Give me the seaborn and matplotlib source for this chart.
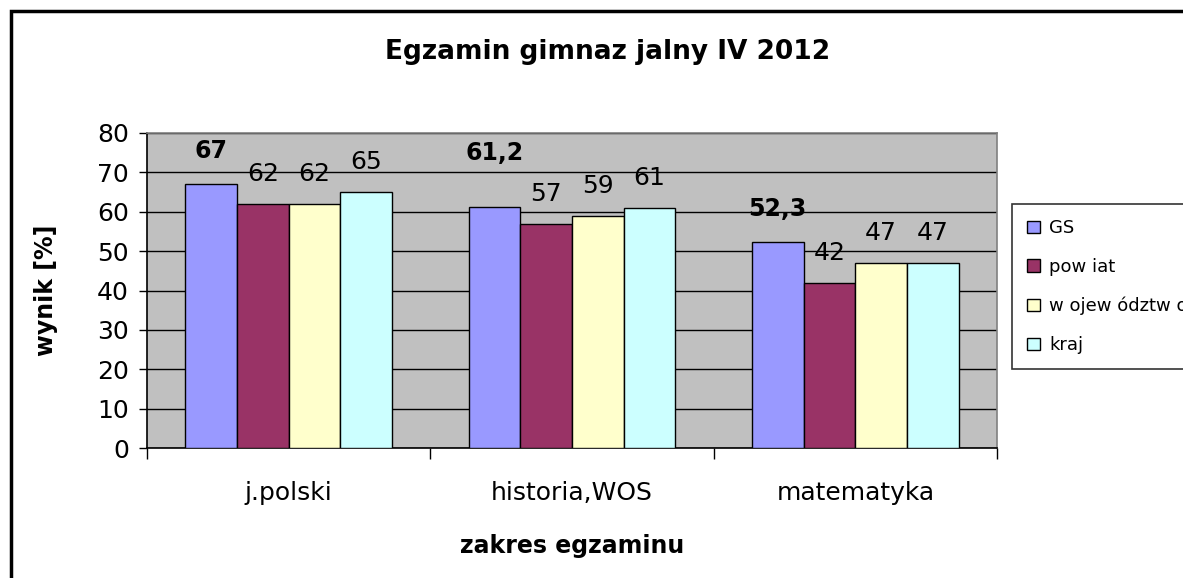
import matplotlib
matplotlib.use("Agg")
import matplotlib.pyplot as plt
import seaborn as sns
import pandas as pd
from matplotlib.patches import Rectangle

categories = ["j.polski", "historia,WOS", "matematyka"]
series = ["GS", "pow iat", "w ojew ództw o", "kraj"]
gs = [67, 61.2, 52.3]
powiat = [62, 57, 42]
wojewodztwo = [62, 59, 47]
kraj = [65, 61, 47]
gs_labels = ["67", "61,2", "52,3"]
colors = ["#9999FF", "#993366", "#FFFFCC", "#CCFFFF"]

rows = []
for s, vals in zip(series, [gs, powiat, wojewodztwo, kraj]):
    for c, v in zip(categories, vals):
        rows.append({"zakres": c, "seria": s, "wynik": v})
df = pd.DataFrame(rows)

sns.set_theme(style="white")
plt.rcParams['font.family'] = ['DejaVu Sans']
plt.rcParams.update({"text.color": "black", "axes.labelcolor": "black",
                     "xtick.color": "black", "ytick.color": "black"})

fig = plt.figure(figsize=(11.83, 5.78), dpi=100)
ax = fig.add_axes([147/1183, 1-448/578, (997-147)/1183, (448-133)/578])
ax.set_facecolor("#C0C0C0")

sns.barplot(data=df, x="zakres", y="wynik", hue="seria", order=categories,
            hue_order=series, palette=colors, saturation=1, width=0.73, gap=0,
            edgecolor="black", linewidth=1, ax=ax, zorder=3, legend=True)

ax.set_ylim(0, 80)
ax.set_xlim(-0.5, 2.5)
ax.set_yticks(range(0, 81, 10))
ax.yaxis.grid(True, color="black", linewidth=1, zorder=0)
ax.set_axisbelow(True)
ax.tick_params(axis="y", which="major", length=6, width=1, color="black",
               left=True, labelsize=18, pad=7)
ax.tick_params(axis="x", which="major", length=0, labelsize=18, pad=24)
ax.set_xticks([-0.5, 0.5, 1.5, 2.5], minor=True)
ax.tick_params(axis="x", which="minor", length=8, width=1, color="black", bottom=True)
for sp in ["left", "bottom"]:
    ax.spines[sp].set_color("black")
    ax.spines[sp].set_linewidth(1.2)
for sp in ["top", "right"]:
    ax.spines[sp].set_color("#808080")
    ax.spines[sp].set_linewidth(1.2)

ax.set_ylabel("wynik [%]", fontsize=17, fontweight="bold", labelpad=28)
ax.set_xlabel("zakres egzaminu", fontsize=17, fontweight="bold", labelpad=21)

# value labels
for i, cont in enumerate(ax.containers):
    if i == 0:
        anns = ax.bar_label(cont, labels=gs_labels, fontsize=17, fontweight="bold", padding=15)
        # the middle GS label sits higher in the reference
        anns[1].xyann = (anns[1].xyann[0], anns[1].xyann[1] + 15)
    else:
        ax.bar_label(cont, fontsize=18, padding=13)

fig.text(608/1183, 1-52/578, "Egzamin gimnaz jalny IV 2012", ha="center", va="center",
         fontsize=19, fontweight="bold")

leg = ax.legend(loc="upper left", bbox_to_anchor=(1012/1183, 1-204/578),
                bbox_transform=fig.transFigure, frameon=True, fontsize=13,
                handlelength=0.7, handleheight=0.7, handletextpad=0.5,
                labelspacing=1.15, borderpad=0.85, borderaxespad=0, fancybox=False)
leg.get_frame().set_edgecolor("black")
leg.get_frame().set_linewidth(1.2)
for h in leg.legend_handles:
    h.set_edgecolor("black")
    h.set_linewidth(1)

fig.patches.append(Rectangle((11/1183, -0.1), 1.2, 1-11/578+0.1, transform=fig.transFigure,
                             fill=False, edgecolor="black", linewidth=2.5, zorder=10))

fig.savefig("out.png", dpi=100)
